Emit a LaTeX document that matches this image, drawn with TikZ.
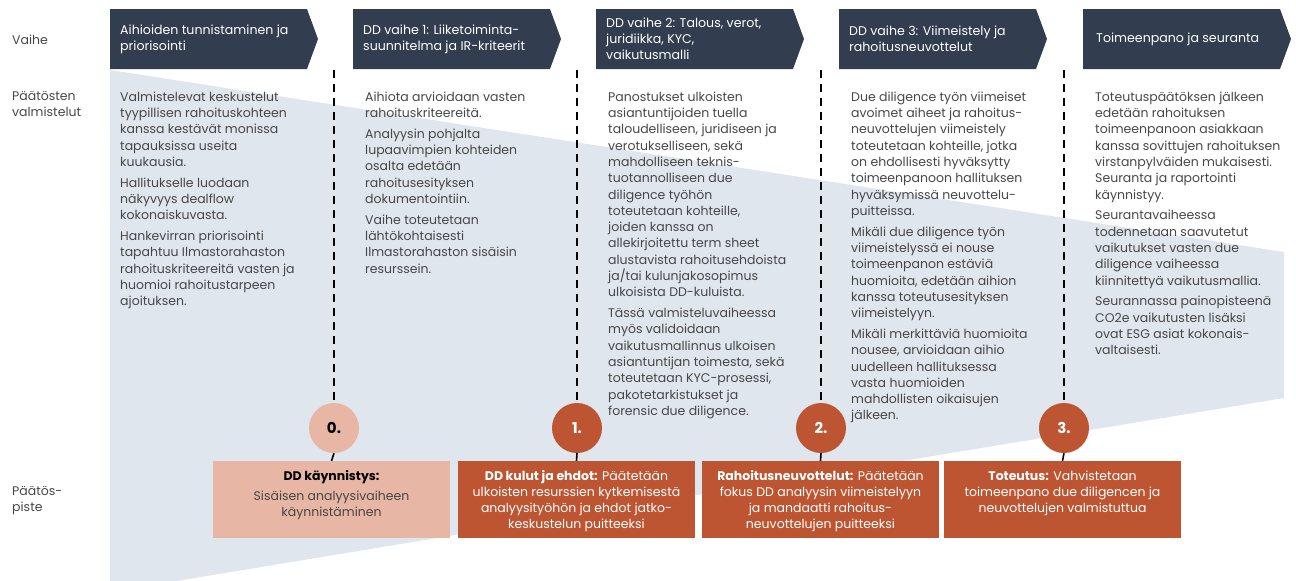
\documentclass[tikz,border=0pt]{standalone}
\usepackage{fontspec}
\setmainfont{Poppins}
\definecolor{navy}{HTML}{323D4F}
\definecolor{rust}{HTML}{BD5532}
\definecolor{salmon}{HTML}{E8B6A4}
\definecolor{funnelgray}{HTML}{E0E6ED}
\definecolor{txtgray}{HTML}{474747}
\begin{document}
\begin{tikzpicture}[x=1pt,y=-1pt,
  headarrow/.style={fill=navy},
  headtext/.style={anchor=west, inner sep=0, align=left, text=white, font=\fontsize{12.6}{16}\selectfont},
  coltext/.style={anchor=north west, inner sep=0, align=left, text=txtgray, font=\fontsize{12.5}{16.3}\selectfont},
  rowlabel/.style={inner sep=0, align=left, text=txtgray, font=\fontsize{12.5}{16}\selectfont},
  phaseline/.style={draw=black, line width=1.6pt, dash pattern=on 8pt off 6pt},
  gatecircle/.style={circle, minimum size=50pt, inner sep=0, font=\bfseries\fontsize{15}{15}\selectfont},
  gatebox/.style={rectangle, minimum width=237pt, minimum height=77pt, inner sep=0},
  boxtext/.style={anchor=north, inner sep=0, align=center, font=\fontsize{12.5}{16}\selectfont}
]
\useasboundingbox (0,0) rectangle (1296,581);
% funnel background
\begin{scope}
\clip (0,0) rectangle (1296,581);
\fill[funnelgray] (110,70) -- (1284,252) -- (1284,398) -- (110,592) -- cycle;
\end{scope}

% header arrows
\foreach \x in {110,353,596,839,1083}{
  \fill[headarrow] (\x,9) -- ++(197,0) -- ++(11,30) -- ++(-11,30) -- ++(-197,0) -- cycle;
}
\node[headtext] (h0) at (120,39) {Aihioiden tunnistaminen ja\\priorisointi};
\node[headtext] (h1) at (363,39) {DD vaihe 1: Liiketoiminta-\\suunnitelma ja IR-kriteerit};
\node[headtext] (h2) at (606,39) {DD vaihe 2: Talous, verot,\\juridiikka, KYC,\\vaikutusmalli};
\node[headtext] (h3) at (849,39) {DD vaihe 3: Viimeistely ja\\rahoitusneuvottelut};
\node[headtext] (h4) at (1096,39) {Toimeenpano ja seuranta};

% row labels
\node[rowlabel, anchor=west] (r0) at (12,40) {Vaihe};
\node[rowlabel, anchor=north west] (r1) at (12,91) {Päätösten\\valmistelut};
\node[rowlabel, anchor=west] (r2) at (12,501) {Päätös-\\piste};

% column texts
\node[coltext] (t0) at (120,91.5) {Valmistelevat keskustelut\\tyypillisen rahoituskohteen\\kanssa kestävät monissa\\tapauksissa useita\\kuukausia.\\[4.5pt]Hallitukselle luodaan\\näkyvyys dealflow\\kokonaiskuvasta.\\[4.5pt]Hankevirran priorisointi\\tapahtuu Ilmastorahaston\\rahoituskriteereitä vasten ja\\huomioi rahoitustarpeen\\ajoituksen.};
\node[coltext] (t1) at (365,91.5) {Aihiota arvioidaan vasten\\rahoituskriteereitä.\\[4.5pt]Analyysin pohjalta\\lupaavimpien kohteiden\\osalta edetään\\rahoitusesityksen\\dokumentointiin.\\[4.5pt]Vaihe toteutetaan\\lähtökohtaisesti\\Ilmastorahaston sisäisin\\resurssein.};
\node[coltext] (t2) at (608,91.5) {Panostukset ulkoisten\\asiantuntijoiden tuella\\taloudelliseen, juridiseen ja\\verotukselliseen, sekä\\mahdolliseen teknis-\\tuotannolliseen due\\diligence työhön\\toteutetaan kohteille,\\joiden kanssa on\\allekirjoitettu term sheet\\alustavista rahoitusehdoista\\ja/tai kulunjakosopimus\\ulkoisista DD-kuluista.\\[4.5pt]Tässä valmisteluvaiheessa\\myös validoidaan\\vaikutusmallinnus ulkoisen\\asiantuntijan toimesta, sekä\\toteutetaan KYC-prosessi,\\pakotetarkistukset ja\\forensic due diligence.};
\node[coltext] (t3) at (851,91.5) {Due diligence työn viimeiset\\avoimet aiheet ja rahoitus-\\neuvottelujen viimeistely\\toteutetaan kohteille, jotka\\on ehdollisesti hyväksytty\\toimeenpanoon hallituksen\\hyväksymissä neuvottelu-\\puitteissa.\\[4.5pt]Mikäli due diligence työn\\viimeistelyssä ei nouse\\toimeenpanon estäviä\\huomioita, edetään aihion\\kanssa toteutusesityksen\\viimeistelyyn.\\[4.5pt]Mikäli merkittäviä huomioita\\nousee, arvioidaan aihio\\uudelleen hallituksessa\\vasta huomioiden\\mahdollisten oikaisujen\\jälkeen.};
\node[coltext] (t4) at (1095,91.5) {Toteutuspäätöksen jälkeen\\edetään rahoituksen\\toimeenpanoon asiakkaan\\kanssa sovittujen rahoituksen\\virstanpylväiden mukaisesti.\\Seuranta ja raportointi\\käynnistyy.\\[4.5pt]Seurantavaiheessa\\todennetaan saavutetut\\vaikutukset vasten due\\diligence vaiheessa\\kiinnitettyä vaikutusmallia.\\[4.5pt]Seurannassa painopisteenä\\CO2e vaikutusten lisäksi\\ovat ESG asiat kokonais-\\valtaisesti.};

% gates
\coordinate (top0) at (334,70);
\coordinate (top1) at (577,70);
\coordinate (top2) at (821,70);
\coordinate (top3) at (1064,70);
\node[gatecircle, fill=salmon, text=black] (c0) at (334,428) {0.};
\node[gatecircle, fill=rust, text=white] (c1) at (577,428) {1.};
\node[gatecircle, fill=rust, text=white] (c2) at (821,428) {2.};
\node[gatecircle, fill=rust, text=white] (c3) at (1064,428) {3.};
\node[gatebox, fill=salmon] (b0) at (331.5,499.5) {};
\node[gatebox, fill=rust] (b1) at (576.5,499.5) {};
\node[gatebox, fill=rust] (b2) at (820.5,499.5) {};
\node[gatebox, fill=rust] (b3) at (1062.5,499.5) {};
\foreach \i in {0,1,2,3}{
  \draw[phaseline] (top\i) -- (c\i.north);
  \draw[phaseline] (c\i.south) -- (b\i.north);
}
\node[boxtext, text=black] (bt0) at ([yshift=-9.5pt]b0.north) {\textbf{DD käynnistys:}\\[3.5pt]\color{txtgray}Sisäisen analyysivaiheen\\\color{txtgray}käynnistäminen};
\node[boxtext, text=white] (bt1) at ([yshift=-9.5pt]b1.north) {\textbf{DD kulut ja ehdot:} Päätetään\\ulkoisten resurssien kytkemisestä\\analyysityöhön ja ehdot jatko-\\keskustelun puitteeksi};
\node[boxtext, text=white] (bt2) at ([yshift=-9.5pt]b2.north) {\textbf{Rahoitusneuvottelut:} Päätetään\\fokus DD analyysin viimeistelyyn\\ja mandaatti rahoitus-\\neuvottelujen puitteeksi};
\node[boxtext, text=white] (bt3) at ([yshift=-9.5pt]b3.north) {\textbf{Toteutus:} Vahvistetaan\\toimeenpano due diligencen ja\\neuvottelujen valmistuttua};
\end{tikzpicture}
\end{document}
